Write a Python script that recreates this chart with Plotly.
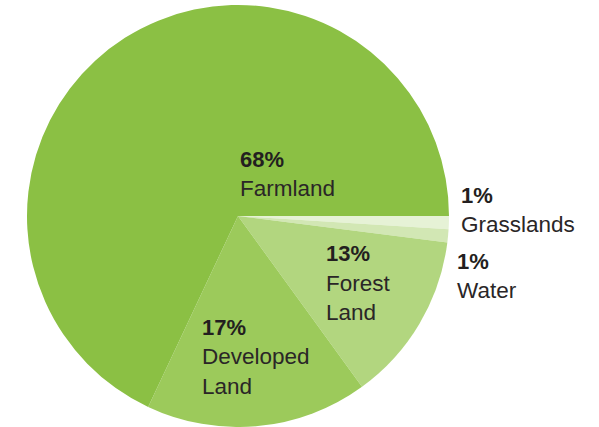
import plotly.graph_objects as go

labels = ["Grasslands", "Water", "Forest Land", "Developed Land", "Farmland"]
values = [1, 1, 13, 17, 68]
display_names = ["Grasslands", "Water", "Forest<br>Land", "Developed<br>Land", "Farmland"]
colors = ["#e6f2d6", "#d2e7b4", "#b2d67f", "#9cca5b", "#8bc044"]

# label anchor positions (paper px from top-left): x, y of percent line cap-middle
label_pos = [(461, 195), (457, 261), (326, 253.5), (202, 327), (240, 159)]
line_gap = 29.5

W, H = 599, 427
fig = go.Figure()
fig.add_trace(go.Pie(
    labels=labels, values=values, sort=False, direction="clockwise", rotation=90,
    marker=dict(colors=colors, line=dict(width=0)),
    textinfo="none", hoverinfo="label+percent", showlegend=False,
    domain=dict(x=[27 / W, 449 / W], y=[0, 422 / H]),
))

ann = []
for v, name, (px, py) in zip(values, display_names, label_pos):
    ann.append(dict(x=(px - 2) / W, y=1 - py / H, xref="paper", yref="paper",
                    xanchor="left", yanchor="middle", showarrow=False,
                    text=f"<b>{v}%</b>",
                    font=dict(family="Liberation Sans Narrow, Liberation Sans, Arial", size=22, color="#231f20")))
    for i, line in enumerate(name.split("<br>")):
        yy = py + line_gap * (i + 1)
        ann.append(dict(x=(px - 2) / W, y=1 - yy / H, xref="paper", yref="paper",
                        xanchor="left", yanchor="middle", showarrow=False,
                        text=line,
                        font=dict(family="Liberation Sans, Arial", size=22.5, color="#2a2627")))

fig.update_layout(width=W, height=H, margin=dict(l=0, r=0, t=0, b=0),
                  paper_bgcolor="white", plot_bgcolor="white", annotations=ann)
fig.write_html("out.html", config={"displayModeBar": False},
               post_script="document.body.style.margin='0';document.body.style.overflow='hidden';")
